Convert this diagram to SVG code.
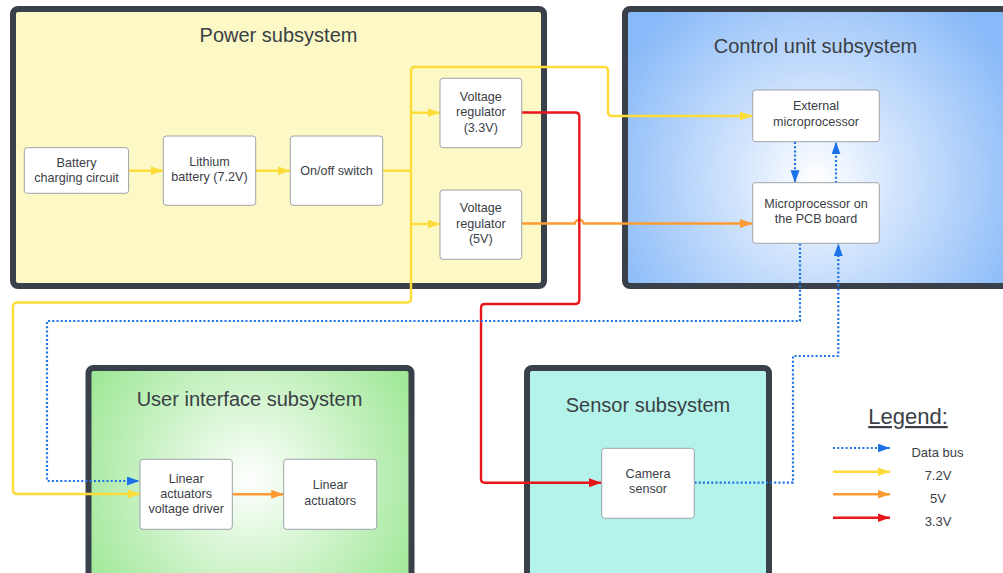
<svg xmlns="http://www.w3.org/2000/svg" width="1003" height="573" viewBox="0 0 1003 573">
  <style>
    .frame { stroke: #3a4049; stroke-width: 6; }
    .title { font-family: "Liberation Sans", Arial, sans-serif; font-size: 20px; fill: #3a3f46; text-anchor: middle; }
    .node rect { fill: #ffffff; stroke: #9ea3a8; stroke-width: 1; }
    .node text { font-family: "Liberation Sans", Arial, sans-serif; font-size: 12.6px; fill: #3b4046; text-anchor: middle; }
    .wire { fill: none; stroke-width: 2.4; stroke-linejoin: round; }
    .v72 { stroke: #fddc3a; }
    .v5 { stroke: #fd9a33; }
    .v33 { stroke: #e8161a; }
    .bus { stroke: #1b72e6; stroke-width: 2.2; stroke-dasharray: 2 2.2; }
    .legend text { font-family: "Liberation Sans", Arial, sans-serif; font-size: 13px; fill: #3b4046; text-anchor: middle; }
  </style>
  <defs>
    <radialGradient id="ctrlFill" gradientUnits="userSpaceOnUse" cx="816" cy="178" r="225">
      <stop offset="0" stop-color="#ffffff"/>
      <stop offset="0.35" stop-color="#d3e5fd"/>
      <stop offset="1" stop-color="#88b9f8"/>
    </radialGradient>
    <radialGradient id="uiFill" gradientUnits="userSpaceOnUse" cx="250" cy="480" r="185">
      <stop offset="0" stop-color="#ffffff"/>
      <stop offset="0.3" stop-color="#e2f8df"/>
      <stop offset="1" stop-color="#a0e898"/>
    </radialGradient>
    <marker id="aY" markerUnits="userSpaceOnUse" markerWidth="13" markerHeight="10" refX="12.5" refY="4.5" orient="auto">
      <path d="M0,0 L12.5,4.5 L0,9 z" fill="#fddc3a"/>
    </marker>
    <marker id="aO" markerUnits="userSpaceOnUse" markerWidth="13" markerHeight="10" refX="12.5" refY="4.5" orient="auto">
      <path d="M0,0 L12.5,4.5 L0,9 z" fill="#fd9a33"/>
    </marker>
    <marker id="aR" markerUnits="userSpaceOnUse" markerWidth="13" markerHeight="10" refX="12.5" refY="4.5" orient="auto">
      <path d="M0,0 L12.5,4.5 L0,9 z" fill="#e8161a"/>
    </marker>
    <marker id="aB" markerUnits="userSpaceOnUse" markerWidth="13" markerHeight="10" refX="12.5" refY="4.5" orient="auto">
      <path d="M0,0 L12.5,4.5 L0,9 z" fill="#1b72e6"/>
    </marker>
  </defs>

  <rect width="1003" height="573" fill="#ffffff"/>

  <!-- Subsystem frames -->
  <g id="power-subsystem">
    <rect class="frame" x="13" y="9" width="531" height="277" rx="5" fill="#fcf9c6"/>
    <text class="title" x="278.5" y="42">Power subsystem</text>
  </g>
  <g id="control-subsystem">
    <rect class="frame" x="625" y="9" width="400" height="277" rx="5" fill="url(#ctrlFill)"/>
    <text class="title" x="815.5" y="53">Control unit subsystem</text>
  </g>
  <g id="ui-subsystem">
    <rect class="frame" x="88.5" y="368" width="323" height="220" rx="5" fill="url(#uiFill)"/>
    <text class="title" x="249.5" y="406">User interface subsystem</text>
  </g>
  <g id="sensor-subsystem">
    <rect class="frame" x="527" y="368" width="242" height="220" rx="5" fill="#b4f3e9"/>
    <text class="title" x="648" y="411.5">Sensor subsystem</text>
  </g>

  <!-- Connectors -->
  <g id="connectors">
    <!-- 7.2V supply -->
    <path class="wire v72" d="M128.5 170.7 H163" marker-end="url(#aY)"/>
    <path class="wire v72" d="M255.5 170.7 H290" marker-end="url(#aY)"/>
    <path class="wire v72" d="M382.5 170.7 H411"/>
    <path class="wire v72" d="M411 112.7 H440" marker-end="url(#aY)"/>
    <path class="wire v72" d="M411 224 H440" marker-end="url(#aY)"/>
    <path class="wire v72" d="M411 170.7 V71 Q411 67 415 67 H604 Q608 67 608 71 V112 Q608 116 612 116 H752.5" marker-end="url(#aY)"/>
    <path class="wire v72" d="M411 170.7 V298.5 Q411 302.5 407 302.5 H17 Q13 302.5 13 306.5 V490 Q13 494 17 494 H140" marker-end="url(#aY)"/>
    <!-- 5V supply -->
    <path class="wire v5" d="M521.5 223.5 H575 C575 218.8 583.6 218.8 583.6 223.5 H752.5" marker-end="url(#aO)"/>
    <path class="wire v5" d="M232.3 494.3 H283.7" marker-end="url(#aO)"/>
    <!-- 3.3V supply -->
    <path class="wire v33" d="M521.5 112.5 H575 Q579.3 112.5 579.3 116.5 V300 Q579.3 304 575.3 304 H485 Q481 304 481 308 V478.7 Q481 482.7 485 482.7 H601.5" marker-end="url(#aR)"/>
    <!-- Data bus -->
    <path class="wire bus" d="M795 142 V182.7" marker-end="url(#aB)"/>
    <path class="wire bus" d="M836 183 V141.8" marker-end="url(#aB)"/>
    <path class="wire bus" d="M800 243.5 V321 H47 V481 H139.5" marker-end="url(#aB)"/>
    <path class="wire bus" d="M694.5 482.7 H793 V356 H838.3 V243.6" marker-end="url(#aB)"/>
  </g>

  <!-- Nodes -->
  <g id="battery-charging" class="node">
    <rect x="24.3" y="147.7" width="104.3" height="45.6" rx="3"/>
    <text x="76.5" y="166.7">Battery</text>
    <text x="76.5" y="181.7">charging circuit</text>
  </g>
  <g id="lithium-battery" class="node">
    <rect x="163.3" y="136" width="92.4" height="69.3" rx="3"/>
    <text x="209.5" y="165.7">Lithium</text>
    <text x="209.5" y="181">battery (7.2V)</text>
  </g>
  <g id="onoff-switch" class="node">
    <rect x="290.3" y="136" width="92.4" height="69.3" rx="3"/>
    <text x="336.5" y="175">On/off switch</text>
  </g>
  <g id="regulator-33" class="node">
    <rect x="440" y="78.3" width="81.7" height="69.4" rx="3"/>
    <text x="480.8" y="100.7">Voltage</text>
    <text x="480.8" y="116">regulator</text>
    <text x="480.8" y="131.7">(3.3V)</text>
  </g>
  <g id="regulator-5" class="node">
    <rect x="440" y="190" width="81.7" height="69.3" rx="3"/>
    <text x="480.8" y="212.3">Voltage</text>
    <text x="480.8" y="227.7">regulator</text>
    <text x="480.8" y="243.3">(5V)</text>
  </g>
  <g id="external-micro" class="node">
    <rect x="752.7" y="90" width="126.6" height="51.7" rx="3"/>
    <text x="816" y="110">External</text>
    <text x="816" y="125.7">microprocessor</text>
  </g>
  <g id="pcb-micro" class="node">
    <rect x="752.7" y="182.7" width="126.6" height="60.6" rx="3"/>
    <text x="816" y="207.7">Microprocessor on</text>
    <text x="816" y="222.7">the PCB board</text>
  </g>
  <g id="actuator-driver" class="node">
    <rect x="140" y="459.3" width="92.3" height="70" rx="3"/>
    <text x="186.2" y="482.7">Linear</text>
    <text x="186.2" y="498">actuators</text>
    <text x="186.2" y="513.3">voltage driver</text>
  </g>
  <g id="linear-actuators" class="node">
    <rect x="283.7" y="459.3" width="93" height="70" rx="3"/>
    <text x="330.2" y="489.3">Linear</text>
    <text x="330.2" y="504.7">actuators</text>
  </g>
  <g id="camera-sensor" class="node">
    <rect x="601.7" y="448.3" width="92.6" height="70" rx="3"/>
    <text x="648" y="477.7">Camera</text>
    <text x="648" y="492.7">sensor</text>
  </g>

  <!-- Legend -->
  <g id="legend" class="legend">
    <text x="908" y="424" style="font-size:22px" text-decoration="underline">Legend:</text>
    <path class="wire bus" d="M833 448 H890" marker-end="url(#aB)"/>
    <text x="937.5" y="457">Data bus</text>
    <path class="wire v72" d="M833 471.7 H890" marker-end="url(#aY)"/>
    <text x="938" y="480">7.2V</text>
    <path class="wire v5" d="M833 494.3 H890" marker-end="url(#aO)"/>
    <text x="938" y="503">5V</text>
    <path class="wire v33" d="M833 517.7 H890" marker-end="url(#aR)"/>
    <text x="938" y="526">3.3V</text>
  </g>
</svg>
